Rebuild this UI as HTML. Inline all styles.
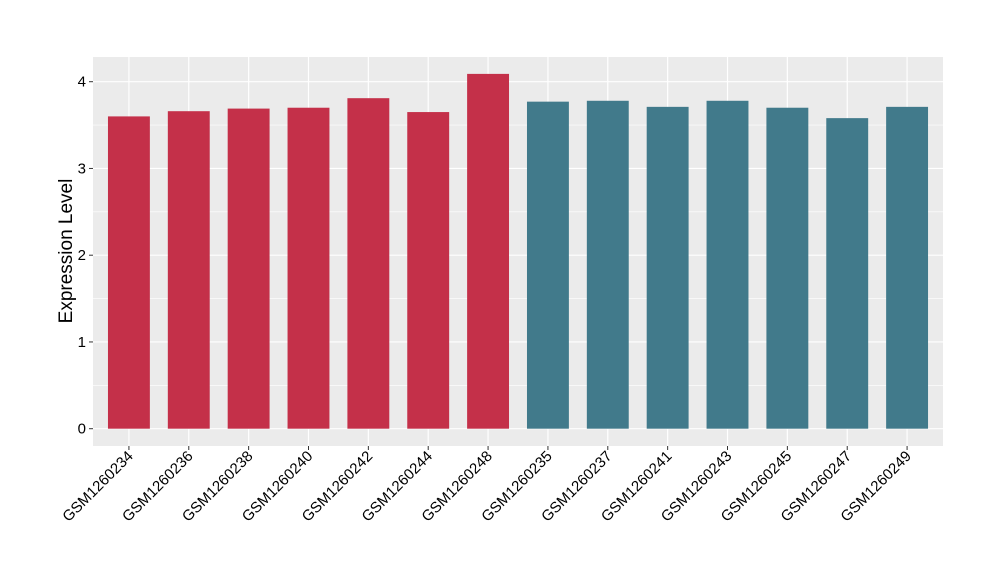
<!DOCTYPE html>
<html><head><meta charset="utf-8"><style>body{margin:0;background:#fff}svg{display:block}text{font-family:"Liberation Sans",sans-serif}</style></head>
<body>
<svg id="chart" width="1000" height="580">
<rect x="93" y="57" width="850" height="389" fill="#ebebeb"/>
<g id="grid"></g><g id="bars"></g><g id="axes"></g>
<text x="0" y="0" transform="translate(72,251) rotate(-90)" text-anchor="middle" font-size="19" fill="#000">Expression Level</text>
</svg>
<script>
const categories=["GSM1260234","GSM1260236","GSM1260238","GSM1260240","GSM1260242","GSM1260244","GSM1260248","GSM1260235","GSM1260237","GSM1260241","GSM1260243","GSM1260245","GSM1260247","GSM1260249"];
const values=[3.60,3.66,3.69,3.70,3.81,3.65,4.09,3.77,3.78,3.71,3.78,3.70,3.58,3.71];
const groups=["a","a","a","a","a","a","a","b","b","b","b","b","b","b"];
const yTicks=[0,1,2,3,4];
const colors={a:"#c43049",b:"#417a8b"};
const NS="http://www.w3.org/2000/svg";
const px0=93,px1=943,py0=428.7,yPer=86.75;
const n=categories.length,step=(px1-px0)/(n-1+1.2);
const xs=i=>px0+step*(0.6+i);
const ys=v=>py0-v*yPer;
function mk(t,a,p){const e=document.createElementNS(NS,t);for(const k in a)e.setAttribute(k,a[k]);p.appendChild(e);return e;}
const grid=document.getElementById('grid'),bars=document.getElementById('bars'),axes=document.getElementById('axes');
for(let v=-0.5;v<=4.5;v+=1){const y=ys(v);if(y<57||y>446)continue;
 const l=mk('line',{x1:px0,x2:px1,y1:y,y2:y,stroke:'#fff','stroke-width':0.6},grid);
 
 }
yTicks.forEach(v=>{const y=ys(v);
 const l=mk('line',{x1:px0,x2:px1,y1:y,y2:y,stroke:'#fff','stroke-width':1.2},grid);
 
 
 const t=mk('line',{x1:px0-4,x2:px0,y1:y,y2:y,stroke:'#333','stroke-width':1},axes);
 
 
 const tx=mk('text',{x:px0-7,y:y+5,'text-anchor':'end','font-size':15,fill:'#000'},axes);
 tx.textContent=v;
 
 });
categories.forEach((c,i)=>{const x=xs(i);
 const g=mk('line',{x1:x,x2:x,y1:57,y2:446,stroke:'#fff','stroke-width':1.2},grid);
 
 
 const w=step*0.7;
 const b=mk('rect',{x:x-w/2,y:ys(values[i]),width:w,height:py0-ys(values[i]),fill:colors[groups[i]]},bars);
 
 
 const t=mk('line',{x1:x,x2:x,y1:446,y2:450,stroke:'#333','stroke-width':1},axes);
 
 
 const tx=mk('text',{x:0,y:0,transform:`translate(${x+5},${457}) rotate(-45)`,'text-anchor':'end','font-size':15,fill:'#000'},axes);
 tx.textContent=c;
 
 });
</script>
</body></html>
